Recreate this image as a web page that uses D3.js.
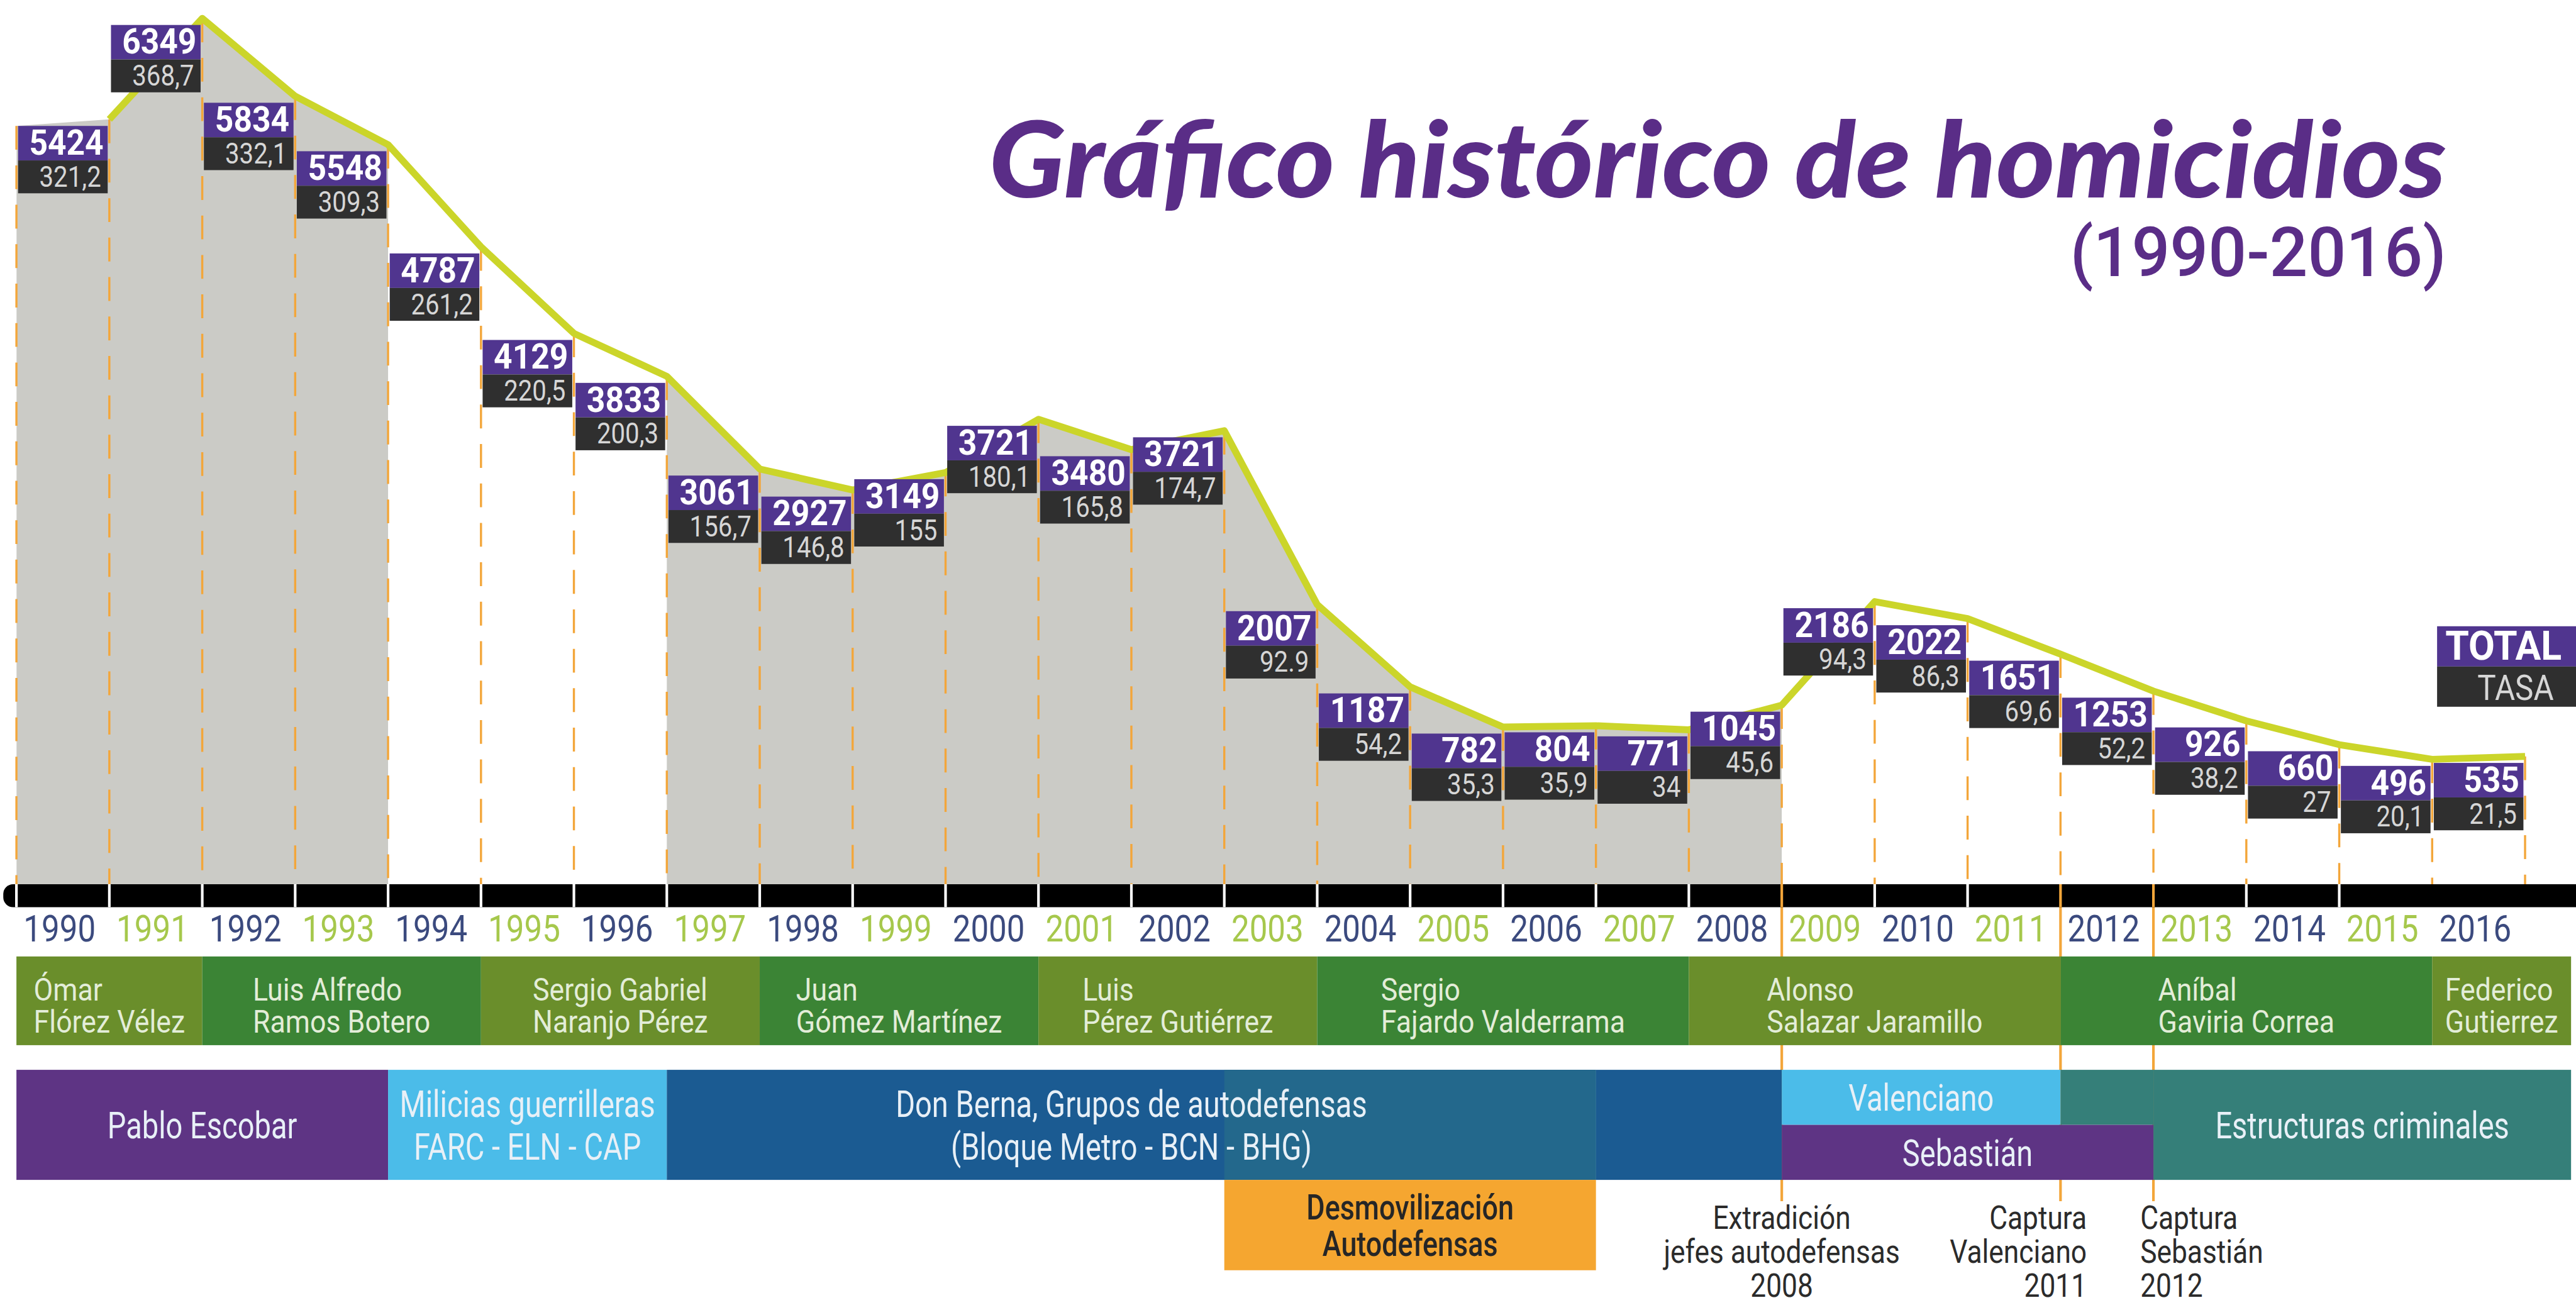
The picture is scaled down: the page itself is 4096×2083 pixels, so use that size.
<!DOCTYPE html>
<html>
<head>
<meta charset="utf-8">
<script src="https://cdn.jsdelivr.net/npm/d3@7"></script>
<style>
  html, body { margin: 0; padding: 0; background: #fff; }
  svg { display: block; }
  .narrow { font-family: Roboto, "DejaVu Sans Condensed", sans-serif; }
  .num { font-family: Roboto, "Liberation Sans", sans-serif; }
</style>
</head>
<body>
<div id="chart"></div>
<script>
// Values (homicidios en Medellín 1990-2016)
var years = [1990, 1991, 1992, 1993, 1994, 1995, 1996, 1997, 1998, 1999, 2000, 2001, 2002, 2003,
             2004, 2005, 2006, 2007, 2008, 2009, 2010, 2011, 2012, 2013, 2014, 2015, 2016];
var homicidios = [5424, 6349, 5834, 5548, 4787, 4129, 3833, 3061, 2927, 3149, 3721, 3480, 3721, 2007,
                  1187, 782, 804, 771, 1045, 2186, 2022, 1651, 1253, 926, 660, 496, 535];
// tasa por 100.000 hab, kept as printed
var tasas = ["321,2", "368,7", "332,1", "309,3", "261,2", "220,5", "200,3", "156,7", "146,8", "155", "180,1", "165,8", "174,7", "92.9",
             "54,2", "35,3", "35,9", "34", "45,6", "94,3", "86,3", "69,6", "52,2", "38,2", "27", "20,1", "21,5"];

// years with grey fill under the curve
var sombreado = [[1990, 1993], [1997, 2008]];

var alcaldes = [
  {nombre: ["Ómar", "Flórez Vélez"], desde: 1990, hasta: 1991},
  {nombre: ["Luis Alfredo", "Ramos Botero"], desde: 1992, hasta: 1994},
  {nombre: ["Sergio Gabriel", "Naranjo Pérez"], desde: 1995, hasta: 1997},
  {nombre: ["Juan", "Gómez Martínez"], desde: 1998, hasta: 2000},
  {nombre: ["Luis", "Pérez Gutiérrez"], desde: 2001, hasta: 2003},
  {nombre: ["Sergio", "Fajardo Valderrama"], desde: 2004, hasta: 2007},
  {nombre: ["Alonso", "Salazar Jaramillo"], desde: 2008, hasta: 2011},
  {nombre: ["Aníbal", "Gaviria Correa"], desde: 2012, hasta: 2015},
  {nombre: ["Federico", "Gutierrez"], desde: 2016, hasta: 2016}
];

var actores = [
  {nombre: ["Pablo Escobar"], desde: 1990, hasta: 1993, fila: "completa"},
  {nombre: ["Milicias guerrilleras", "FARC - ELN - CAP"], desde: 1994, hasta: 1996, fila: "completa"},
  {nombre: ["Don Berna, Grupos de autodefensas", "(Bloque Metro - BCN - BHG)"], desde: 1997, hasta: 2006, fila: "completa"},
  {nombre: [], desde: 2007, hasta: 2008, fila: "completa"},
  {nombre: ["Estructuras criminales"], desde: 2013, hasta: 2016, fila: "completa"},
  {nombre: [], desde: 2012, hasta: 2012, fila: "arriba"},
  {nombre: ["Valenciano"], desde: 2009, hasta: 2011, fila: "arriba"},
  {nombre: ["Sebastián"], desde: 2009, hasta: 2012, fila: "abajo"}
];

var desmovilizacion = {nombre: ["Desmovilización", "Autodefensas"], desde: 2003, hasta: 2006};

var eventos = [
  {texto: ["Extradición", "jefes autodefensas", "2008"], anio: 2008},
  {texto: ["Captura", "Valenciano", "2011"], anio: 2011},
  {texto: ["Captura", "Sebastián", "2012"], anio: 2012}
];

// colours
var purple = "#50358f", darkBox = "#2f2f2f", grey = "#cbcbc6", lime = "#cbd52a", orange = "#f3a63a";
var alcaldeColor = ["#6a8e2b", "#3b8435"];
var actorColor = ["#5e3484", "#4bbce9", "#1b5b92", "#1b5b92", "#357f79", "#357f79", "#4bbce9", "#5e3484"];
var eventAnchor = [["middle", 0], ["end", 16], ["start", -8]];

var W = 1568, H = 797;
var svg = d3.select("#chart").append("svg")
    .attr("width", 4096)
    .attr("height", 2083)
    .attr("viewBox", "0 0 " + W + " " + H);

var x = d3.scaleLinear().domain([1990, 2017]).range([10, 1537]);
var col = x(1991) - x(1990);
var rightEdge = x(2017) + 28;
var tasaNum = tasas.map(function(t) { return +t.replace(",", "."); });
// box tops follow the rate
var y = d3.scaleLinear().domain(d3.extent(tasaNum)).range([466, 15]);
var axisY = 538;

function bandEnd(hasta) { return hasta === 2016 ? rightEdge : x(hasta + 1); }

// squeeze a text horizontally around x = ax (the original uses a condensed face)
function squeeze(t, f, ax) {
  t.attr("transform", "translate(" + ax + ",0) scale(" + f + ",1) translate(" + (-ax) + ",0)");
}

// ---- grey area under the curve, only for shaded year spans
var clip = svg.append("defs").append("clipPath").attr("id", "shade");
sombreado.forEach(function(s) {
  clip.append("rect")
      .attr("x", x(s[0])).attr("y", 0)
      .attr("width", x(s[1] + 1) - x(s[0])).attr("height", axisY);
});

var pts = years.map(function(yr, i) { return {x: x(yr + 1), y: y(tasaNum[i]) - 4}; });
var areaPts = [{x: x(years[0]), y: y(tasaNum[0])}].concat(pts);

var area = d3.area()
    .x(function(d) { return d.x; })
    .y0(axisY)
    .y1(function(d) { return d.y; });

svg.append("path")
    .attr("d", area(areaPts))
    .attr("fill", grey)
    .attr("clip-path", "url(#shade)");

// ---- dashed orange year dividers
var dashes = [{x: x(years[0]), y: y(tasaNum[0])}].concat(pts);
svg.append("g").selectAll("line")
  .data(dashes)
  .enter().append("line")
    .attr("x1", function(d) { return d.x; })
    .attr("x2", function(d) { return d.x; })
    .attr("y1", function(d) { return d.y; })
    .attr("y2", axisY)
    .attr("stroke", orange)
    .attr("stroke-width", 1.3)
    .attr("stroke-dasharray", "14.5,9.5");

// ---- lime curve
var line = d3.line()
    .x(function(d) { return d.x; })
    .y(function(d) { return d.y; });

svg.append("path")
    .attr("d", line(pts))
    .attr("fill", "none")
    .attr("stroke", lime)
    .attr("stroke-width", 4.2)
    .attr("stroke-linejoin", "round");

// ---- label boxes (total / tasa)
var bw = col - 2;
var boxes = svg.append("g").selectAll("g")
  .data(years)
  .enter().append("g")
    .attr("transform", function(d, i) { return "translate(" + (x(d) + 1) + "," + y(tasaNum[i]) + ")"; });

boxes.append("rect").attr("width", bw).attr("height", 21).attr("fill", purple);
boxes.append("rect").attr("y", 21).attr("width", bw).attr("height", 20).attr("fill", darkBox);
boxes.append("text")
    .attr("class", "num")
    .attr("x", bw - 2.5).attr("y", 17.5)
    .attr("text-anchor", "end")
    .attr("font-size", 21).attr("font-weight", "bold")
    .attr("fill", "#fff")
    .text(function(d, i) { return homicidios[i]; })
    .each(function() { squeeze(d3.select(this), 0.94, bw - 2.5); });
boxes.append("text")
    .attr("class", "num")
    .attr("x", bw - 4).attr("y", 37)
    .attr("text-anchor", "end")
    .attr("font-size", 17.5)
    .attr("fill", "#d6d6d6")
    .text(function(d, i) { return tasas[i]; })
    .each(function() { squeeze(d3.select(this), 0.88, bw - 4); });

// legend TOTAL / TASA
var leg = svg.append("g").attr("transform", "translate(" + (x(2016) + 3) + ",381)");
leg.append("rect").attr("width", 100).attr("height", 24.5).attr("fill", purple);
leg.append("rect").attr("y", 24.5).attr("width", 100).attr("height", 24.5).attr("fill", darkBox);
leg.append("text").attr("class", "num").attr("x", 5).attr("y", 20.5)
    .attr("font-size", 24.5).attr("font-weight", "bold").attr("fill", "#fff").text("TOTAL")
    .call(squeeze, 0.95, 5);
leg.append("text").attr("class", "num").attr("x", 71).attr("y", 45)
    .attr("text-anchor", "end").attr("font-size", 21).attr("fill", "#d6d6d6").text("TASA")
    .call(squeeze, 0.9, 71);

// ---- event lines (solid orange), behind the bands
svg.append("g").selectAll("line")
  .data(eventos)
  .enter().append("line")
    .attr("x1", function(d) { return x(d.anio + 1); })
    .attr("x2", function(d) { return x(d.anio + 1); })
    .attr("y1", axisY).attr("y2", 731)
    .attr("stroke", orange).attr("stroke-width", 1.6);

// ---- black time bar with white separators
svg.append("rect")
    .attr("x", 2).attr("y", axisY).attr("width", W + 20).attr("height", 14)
    .attr("rx", 6).attr("fill", "#000");
svg.append("g").selectAll("line")
  .data(years.filter(function(d) { return d < 2016; }))
  .enter().append("line")
    .attr("x1", function(d) { return x(d); })
    .attr("x2", function(d) { return x(d); })
    .attr("y1", axisY).attr("y2", axisY + 14)
    .attr("stroke", function(d) { return eventos.some(function(e) { return e.anio + 1 === d; }) ? orange : "#fff"; })
    .attr("stroke-width", 1.6);

// year labels
svg.append("g").selectAll("text")
  .data(years)
  .enter().append("text")
    .attr("class", "narrow")
    .attr("x", function(d) { return x(d) + col / 2 - 2; })
    .attr("y", 573)
    .attr("text-anchor", "middle")
    .attr("font-size", 23)
    .attr("fill", function(d) { return d % 2 === 0 ? "#3b4a7e" : "#a6c84c"; })
    .text(function(d) { return d; })
    .each(function(d) { squeeze(d3.select(this), 0.85, x(d) + col / 2 - 2); });

// ---- mayors band
var gA = svg.append("g").selectAll("g")
  .data(alcaldes)
  .enter().append("g");
gA.append("rect")
    .attr("x", function(d) { return x(d.desde); })
    .attr("y", 582)
    .attr("width", function(d) { return bandEnd(d.hasta) - x(d.desde); })
    .attr("height", 54)
    .attr("fill", function(d, i) { return alcaldeColor[i % 2]; });
gA.each(function(d) {
  var f = 0.9;
  var t = d3.select(this).append("text")
      .attr("class", "narrow")
      .attr("font-size", 19)
      .attr("fill", "#e3edd8");
  d.nombre.forEach(function(s, k) {
    t.append("tspan").attr("x", 0).attr("y", 609 + k * 19.5).text(s);
  });
  var w = t.node().getBBox().width * f;
  var cx = (x(d.desde) + bandEnd(d.hasta)) / 2;
  t.attr("transform", "translate(" + (cx - w / 2) + ",0) scale(" + f + ",1)");
});

// ---- actors band
var bandTop = 651, bandH = 67;
function rowY(f) { return f === "abajo" ? bandTop + bandH / 2 : bandTop; }
function rowH(f) { return f === "completa" ? bandH : bandH / 2; }

svg.append("g").selectAll("rect")
  .data(actores)
  .enter().append("rect")
    .attr("x", function(d) { return x(d.desde); })
    .attr("y", function(d) { return rowY(d.fila); })
    .attr("width", function(d) { return bandEnd(d.hasta) - x(d.desde); })
    .attr("height", function(d) { return rowH(d.fila); })
    .attr("fill", function(d, i) { return actorColor[i]; });

// desmovilización: tint over the actors band and orange box below
svg.append("rect")
    .attr("x", x(desmovilizacion.desde)).attr("y", bandTop)
    .attr("width", x(desmovilizacion.hasta + 1) - x(desmovilizacion.desde)).attr("height", bandH)
    .attr("fill", "#23688c");
svg.append("rect")
    .attr("x", x(desmovilizacion.desde)).attr("y", bandTop + bandH)
    .attr("width", x(desmovilizacion.hasta + 1) - x(desmovilizacion.desde)).attr("height", 55)
    .attr("fill", "#f5a630");

function multiline(sel, lines, cx, cy, size, gap, f) {
  var t = sel.append("text")
      .attr("class", "narrow")
      .attr("text-anchor", "middle")
      .attr("font-size", size);
  lines.forEach(function(s, k) {
    t.append("tspan")
        .attr("x", cx)
        .attr("y", cy + (k - (lines.length - 1) / 2) * gap + size * 0.36)
        .text(s);
  });
  squeeze(t, f, cx);
  return t;
}

actores.forEach(function(d) {
  if (!d.nombre.length) return;
  var cx = (x(d.desde) + bandEnd(d.hasta)) / 2;
  var cy = rowY(d.fila) + rowH(d.fila) / 2;
  multiline(svg, d.nombre, cx, cy, 22.5, 26, 0.8).attr("fill", "#e8f0f7");
});

multiline(svg, desmovilizacion.nombre,
    (x(desmovilizacion.desde) + x(desmovilizacion.hasta + 1)) / 2, bandTop + bandH + 27.5, 21.5, 22, 0.8)
  .attr("fill", "#262626").attr("font-weight", 500);

// event captions
eventos.forEach(function(e, i) {
  var ax = x(e.anio + 1) + eventAnchor[i][1];
  var t = svg.append("text")
      .attr("class", "narrow")
      .attr("text-anchor", eventAnchor[i][0])
      .attr("font-size", 19.5)
      .attr("fill", "#2b2b2b");
  e.texto.forEach(function(s, k) {
    t.append("tspan")
        .attr("x", ax)
        .attr("y", 748 + k * 20.5)
        .text(s);
  });
  squeeze(t, 0.87, ax);
});

// ---- title
svg.append("text")
    .attr("x", 602).attr("y", 120)
    .attr("textLength", 887).attr("lengthAdjust", "spacingAndGlyphs")
    .attr("font-family", "Lato, 'Open Sans', sans-serif")
    .attr("font-weight", 900).attr("font-style", "italic")
    .attr("font-size", 64)
    .attr("fill", "#5a2d87")
    .text("Gráfico histórico de homicidios");
svg.append("text")
    .attr("class", "narrow")
    .attr("x", 1489).attr("y", 168)
    .attr("text-anchor", "end")
    .attr("textLength", 229).attr("lengthAdjust", "spacingAndGlyphs")
    .attr("font-size", 42).attr("font-weight", 500)
    .attr("fill", "#5a2d87")
    .text("(1990-2016)");
</script>
</body>
</html>
